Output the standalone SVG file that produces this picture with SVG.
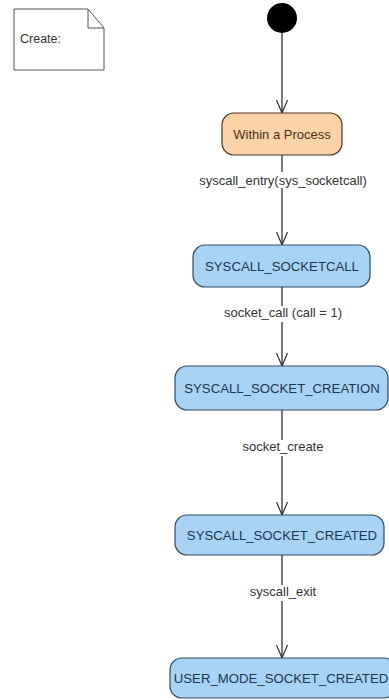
<svg xmlns="http://www.w3.org/2000/svg" width="389" height="700" viewBox="0 0 389 700">
<defs>
<style>
.lbl{font-family:"Liberation Sans",Arial,sans-serif;font-size:13px;fill:#333;text-anchor:middle}
.st{fill:#a9d3f5;stroke:#2f4a64;stroke-width:1.2}
.stt{font-family:"Liberation Sans",Arial,sans-serif;font-size:13.2px;fill:#1c3550;text-anchor:middle}
.edge{stroke:#222;stroke-width:1.2;fill:none}
</style>
<marker id="arr" markerWidth="14" markerHeight="14" refX="13" refY="7" orient="auto" markerUnits="userSpaceOnUse" viewBox="0 0 14 14">
<path d="M0,1.5 L13,7 L0,12.5" fill="none" stroke="#222" stroke-width="1.1"/>
</marker>
</defs>
<rect width="389" height="700" fill="#fff"/>
<g id="note">
<path d="M14,9 H88 L104,28 V70 H14 Z" fill="#fff" stroke="#555" stroke-width="1"/>
<path d="M88,9 V28 H104" fill="none" stroke="#555" stroke-width="1"/>
<text x="20" y="43" font-family="Liberation Sans,Arial,sans-serif" font-size="12.5" fill="#333">Create:</text>
</g>
<g id="edges">
<line class="edge" x1="282" y1="33" x2="282" y2="113" marker-end="url(#arr)"/>
<line class="edge" x1="282" y1="155" x2="282" y2="245" marker-end="url(#arr)"/>
<line class="edge" x1="282" y1="287" x2="282" y2="366" marker-end="url(#arr)"/>
<line class="edge" x1="282" y1="410" x2="282" y2="515" marker-end="url(#arr)"/>
<line class="edge" x1="282" y1="555" x2="282" y2="658" marker-end="url(#arr)"/>
<rect x="212" y="172" width="140" height="16" fill="#fff"/>
<text class="lbl" x="283" y="185">syscall_entry(sys_socketcall)</text>
<rect x="222" y="306" width="124" height="16" fill="#fff"/>
<text class="lbl" x="283" y="317">socket_call (call = 1)</text>
<rect x="243" y="440" width="80" height="16" fill="#fff"/>
<text class="lbl" x="283" y="451">socket_create</text>
<rect x="249" y="585" width="68" height="16" fill="#fff"/>
<text class="lbl" x="283" y="596">syscall_exit</text>
</g>
<g id="start">
<circle cx="282" cy="18" r="15" fill="#000"/>
</g>
<g id="within">
<rect x="222" y="113" width="120" height="42" rx="12" fill="#fcd3a8" stroke="#4a3420" stroke-width="1.2"/>
<text x="282" y="139" font-family="Liberation Sans,Arial,sans-serif" font-size="13" fill="#4a3018" text-anchor="middle">Within a Process</text>
</g>
<g id="socketcall">
<rect class="st" x="193" y="245" width="177" height="42" rx="12"/>
<text class="stt" x="282" y="271">SYSCALL_SOCKETCALL</text>
</g>
<g id="creation">
<rect class="st" x="175" y="366" width="213" height="44" rx="12"/>
<text class="stt" x="282" y="393">SYSCALL_SOCKET_CREATION</text>
</g>
<g id="created">
<rect class="st" x="175" y="515" width="209" height="40" rx="12"/>
<text class="stt" x="282" y="540">SYSCALL_SOCKET_CREATED</text>
</g>
<g id="usermode">
<rect class="st" x="170" y="658" width="226" height="40" rx="12"/>
<text class="stt" x="281" y="683">USER_MODE_SOCKET_CREATED</text>
</g>
</svg>
